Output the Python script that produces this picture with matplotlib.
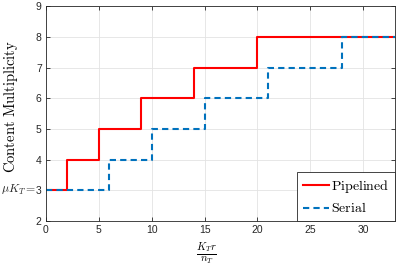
import numpy as np
import matplotlib
matplotlib.use('Agg')
import matplotlib.pyplot as plt
import matplotlib.transforms as mtransforms

plt.rcParams['mathtext.fontset'] = 'cm'
plt.rcParams['font.family'] = 'Liberation Sans'

# datos
pip_x = [0, 2, 5, 9, 14, 20, 35]
pip_y = [3, 4, 5, 6, 7, 8, 8]
ser_x = [0, 6, 10, 15, 21, 28, 35]
ser_y = [3, 4, 5, 6, 7, 8, 8]
xticks = [0, 5, 10, 15, 20, 25, 30]
yticks = [2, 3, 4, 5, 6, 7, 8, 9]
mu_kt = 3

fig = plt.figure(figsize=(3.99, 2.66), dpi=100)
ax = fig.add_axes([0.115, 0.169, 0.875, 0.808])

ax.step(pip_x, pip_y, where='post', color=(1, 0, 0), linewidth=1.5, label=r'$\mathrm{Pipelined}$')
ax.step(ser_x, ser_y, where='post', color=(0, 0.447, 0.741), linewidth=1.5,
        linestyle=(0, (3, 2)), label=r'$\mathrm{Serial}$')

ax.set_xlim(0, 33)
ax.set_ylim(2, 9)
ax.set_xticks(xticks)
ax.set_yticks(yticks)
ax.tick_params(direction='in', length=3, width=0.6, labelsize=7.5, colors='#262626',
               top=True, right=True, pad=3)
ax.grid(True, color='#e3e3e3', linewidth=0.6)
for s in ax.spines.values():
    s.set_color('#262626')
    s.set_linewidth(0.6)

# etiqueta mu*K_T junto al tick 3
trans = mtransforms.blended_transform_factory(ax.transAxes, ax.transData)
ax.text(-0.027, mu_kt, r'$\mu K_T=$', transform=trans, ha='right', va='center',
        fontsize=8.5, color='#262626')

ax.set_xlabel(r'$\frac{K_T r}{n_T}$', fontsize=11, va='top')
ax.xaxis.set_label_coords(0.461, -0.09)
ax.set_ylabel(r'$\mathrm{Content\ Multiplicity}$', fontsize=10.5)
ax.yaxis.set_label_coords(-0.075, 0.535)

leg = ax.legend(loc='lower right', fontsize=10, fancybox=False, framealpha=1,
                edgecolor='#262626', borderaxespad=0, handlelength=1.9,
                handletextpad=0.15, borderpad=0.4, labelspacing=0.5)
leg.get_frame().set_linewidth(0.6)

fig.savefig('out.png', dpi=100)
